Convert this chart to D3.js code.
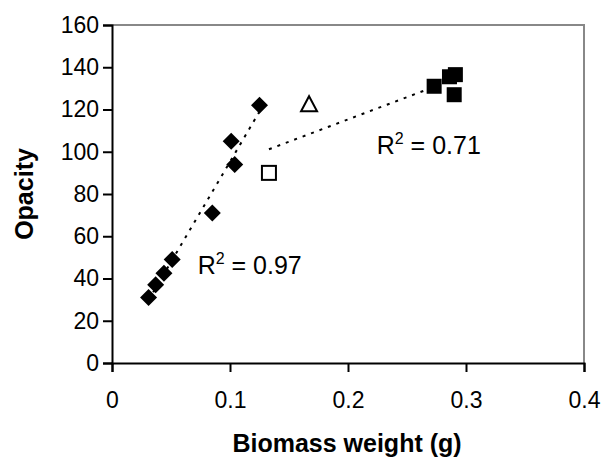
<!DOCTYPE html>
<html><head><meta charset="utf-8">
<script src="https://cdn.jsdelivr.net/npm/d3@7"></script>
<style>body{margin:0;background:#fff}svg{display:block}text{font-family:"Liberation Sans",Arial,sans-serif}</style>
</head><body><svg id="c" width="602" height="459"></svg>
<script>
// Data
const diamondX = [0.031, 0.037, 0.044, 0.051, 0.085, 0.104, 0.101, 0.125];
const diamondY = [31, 37, 42.5, 49, 71, 94, 105, 122];
const openSquareX = [0.133];
const openSquareY = [90];
const triangleX = [0.167];
const triangleY = [122.5];
const filledSquareX = [0.273, 0.286, 0.291, 0.290];
const filledSquareY = [131, 135.5, 136.5, 127];
const xTicks = [0, 0.1, 0.2, 0.3, 0.4];
const yTicks = [0, 20, 40, 60, 80, 100, 120, 140, 160];
const labelA = {x: 0.0726, y: 42, t: "0.97"};
const labelB = {x: 0.2243, y: 99, t: "0.71"};

const W = 602, H = 459;
const m = {l: 112, t: 25, r: 18, b: 96};
const svg = d3.select("#c");
const x = d3.scaleLinear().domain([0, 0.4]).range([m.l, W - m.r]);
const y = d3.scaleLinear().domain([0, 160]).range([H - m.b, m.t]);

// plot frame (top/right gray)
svg.append("path").attr("d", `M${m.l},${m.t}H${W-m.r}V${H-m.b}`)
  .attr("fill", "none").attr("stroke", "#888").attr("stroke-width", 2);

function fit(xs, ys) {
  const n = xs.length, mx = d3.mean(xs), my = d3.mean(ys);
  let sxy = 0, sxx = 0;
  for (let i = 0; i < n; i++) { sxy += (xs[i]-mx)*(ys[i]-my); sxx += (xs[i]-mx)**2; }
  const b = sxy / sxx, a = my - b * mx;
  const x0 = d3.min(xs), x1 = d3.max(xs);
  return [[x0, a + b*x0], [x1, a + b*x1]];
}
const line = d3.line().x(d => x(d[0])).y(d => y(d[1]));
const fitA = fit(diamondX, diamondY);
const bX = openSquareX.concat(triangleX, filledSquareX);
const bY = openSquareY.concat(triangleY, filledSquareY);
const fitB = fit(bX, bY);
[fitA, fitB].forEach(f => svg.append("path").attr("d", line(f))
  .attr("fill", "none").attr("stroke", "#000").attr("stroke-width", 2)
  .attr("stroke-dasharray", "3,6"));

// axes
const xa = svg.append("g").attr("transform", `translate(0,${H-m.b})`)
  .call(d3.axisBottom(x).tickValues(xTicks).tickSize(9).tickPadding(20).tickFormat(d => d === 0 ? "0" : d3.format(".1f")(d)));
const ya = svg.append("g").attr("transform", `translate(${m.l},0)`)
  .call(d3.axisLeft(y).tickValues(yTicks).tickSize(9).tickPadding(4).tickFormat(d3.format("d")));
[xa, ya].forEach(g => {
  g.selectAll("path.domain").attr("stroke", "#000").attr("stroke-width", 2);
  g.selectAll(".tick line").attr("stroke", "#000").attr("stroke-width", 2);
  g.selectAll("text").attr("fill", "#000").style("font-size", "23px").style("font-family", "'Liberation Sans',Arial,sans-serif");
});

// markers
const dsz = 8.5;
svg.append("g").selectAll("path").data(diamondX.map((d, i) => [d, diamondY[i]])).join("path")
  .attr("d", d => `M${x(d[0])},${y(d[1])-dsz}l${dsz},${dsz}l${-dsz},${dsz}l${-dsz},${-dsz}Z`)
  .attr("fill", "#000");
const ss = 15;
svg.append("g").selectAll("rect").data(filledSquareX.map((d, i) => [d, filledSquareY[i]])).join("rect")
  .attr("x", d => x(d[0]) - ss/2).attr("y", d => y(d[1]) - ss/2).attr("width", ss).attr("height", ss)
  .attr("fill", "#000");
svg.append("g").selectAll("rect").data(openSquareX.map((d, i) => [d, openSquareY[i]])).join("rect")
  .attr("x", d => x(d[0]) - 7).attr("y", d => y(d[1]) - 7).attr("width", 14).attr("height", 14)
  .attr("fill", "#fff").attr("stroke", "#000").attr("stroke-width", 2);
svg.append("g").selectAll("path").data(triangleX.map((d, i) => [d, triangleY[i]])).join("path")
  .attr("d", d => `M${x(d[0])},${y(d[1])-8}l8,15h-16Z`)
  .attr("fill", "#fff").attr("stroke", "#000").attr("stroke-width", 2);

// R² labels
[labelA, labelB].forEach(L => {
  const t = svg.append("text").attr("x", x(L.x)).attr("y", y(L.y)).attr("font-size", 25).attr("fill", "#000");
  t.append("tspan").text("R");
  t.append("tspan").attr("dy", -10).attr("font-size", 16).text("2");
  t.append("tspan").attr("dy", 10).text(" = " + L.t);
});

// axis titles
svg.append("text").attr("x", 347).attr("y", 452).attr("text-anchor", "middle")
  .attr("font-weight", "bold").attr("font-size", 25).text("Biomass weight (g)");
svg.append("text").attr("transform", `translate(33,${(m.t + H - m.b)/2}) rotate(-90)`).attr("text-anchor", "middle")
  .attr("font-weight", "bold").attr("font-size", 25).text("Opacity");
</script></body></html>
